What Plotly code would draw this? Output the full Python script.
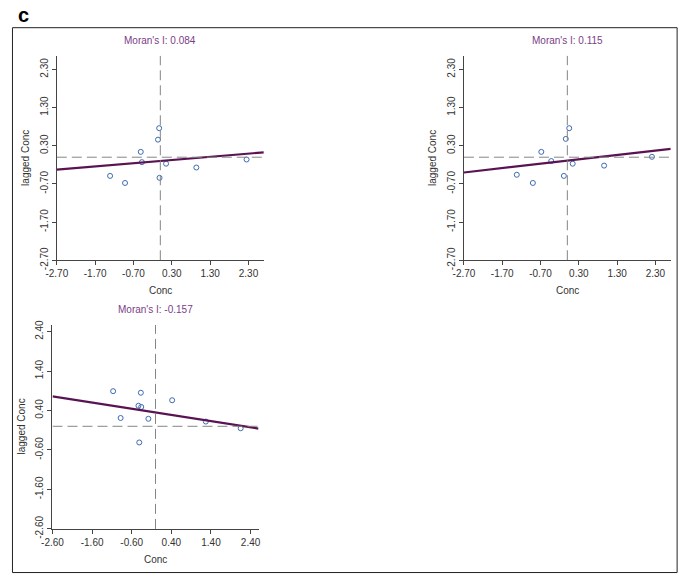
import plotly.graph_objects as go

W, H = 685, 584

# ---------------- data ----------------
panel_titles = ["Moran's I: 0.084", "Moran's I: 0.115", "Moran's I: -0.157"]
morans_i = [0.084, 0.115, -0.157]
fit_intercepts = [-0.10, -0.09, 0.35]

conc_1 = [-1.31, -0.92, -0.51, -0.48, -0.06, -0.03, -0.02, 0.15, 0.94, 2.25]
lag_1 = [-0.49, -0.675, 0.14, -0.13, 0.46, 0.76, -0.54, -0.17, -0.27, -0.06]

conc_2 = [-1.32, -0.90, -0.68, -0.42, -0.04, 0.05, -0.09, 0.14, 0.96, 2.21]
lag_2 = [-0.46, -0.675, 0.14, -0.10, 0.48, 0.76, -0.49, -0.17, -0.22, 0.01]

conc_3 = [-1.07, -0.88, -0.37, -0.43, -0.36, -0.18, -0.41, 0.42, 1.27, 2.15]
lag_3 = [0.89, 0.21, 0.85, 0.52, 0.49, 0.19, -0.41, 0.66, 0.12, -0.05]

x_ranges = [[-2.7, 2.7], [-2.7, 2.7], [-2.6, 2.6]]
y_ranges = [[-2.7, 2.66], [-2.7, 2.66], [-2.6, 2.57]]
tick_vals_1 = [-2.7, -1.7, -0.7, 0.3, 1.3, 2.3]
tick_vals_3 = [-2.6, -1.6, -0.6, 0.4, 1.4, 2.4]
tick_sets = [tick_vals_1, tick_vals_1, tick_vals_3]
mean_x = [0.0, 0.0, 0.0]
mean_y = [0.0, 0.0, 0.0]

x_label = "Conc"
y_label = "lagged Conc"
panel_letter = "c"

conc_all = [conc_1, conc_2, conc_3]
lag_all = [lag_1, lag_2, lag_3]

# ---------------- layout (pixel boxes: left, right, top, bottom) ----------------
boxes = [
    (46.7, 257.7, 52.0, 262.0),
    (461.7, 672.5, 52.0, 262.0),
    (42.3, 252.3, 328.3, 537.7),
]

FONT = "Arial, Liberation Sans, sans-serif"
AX_COL = "#444444"
TXT_COL = "#333333"
PURPLE_TXT = "#7a3d86"
LINE_COL = "#5a1352"
PT_COL = "#3d6bb3"
DASH_COL = "#858585"

fig = go.Figure()
layout = dict(
    width=W, height=H,
    margin=dict(l=0, r=0, t=0, b=0),
    paper_bgcolor="white", plot_bgcolor="white",
    showlegend=False,
    font=dict(family=FONT, size=10, color=TXT_COL),
)

annotations = []
shapes = []

for i in range(3):
    sfx = "" if i == 0 else str(i + 1)
    xa, ya = "x" + sfx, "y" + sfx
    l, r, t, b = boxes[i]
    xd = [l / W, r / W]
    yd = [1 - b / H, 1 - t / H]
    ticks = tick_sets[i]
    txt = ["%.2f" % v for v in ticks]
    common = dict(
        showgrid=False, zeroline=False, showline=True, linecolor=AX_COL,
        linewidth=1, ticks="outside", ticklen=4, tickwidth=1, tickcolor=AX_COL,
        tickmode="array", tickvals=ticks, ticktext=txt,
        tickfont=dict(family=FONT, size=10, color=TXT_COL),
        fixedrange=True, mirror=False,
    )
    layout["xaxis" + sfx] = dict(common, domain=xd, range=x_ranges[i], anchor=ya)
    layout["yaxis" + sfx] = dict(common, domain=yd, range=y_ranges[i], anchor=xa,
                                 tickangle=-90)

    shapes.append(dict(type="line", xref=xa, yref=ya,
                       x0=mean_x[i], x1=mean_x[i], y0=y_ranges[i][0], y1=y_ranges[i][1],
                       line=dict(color=DASH_COL, width=1, dash="10px,5px")))
    shapes.append(dict(type="line", xref=xa, yref=ya,
                       x0=x_ranges[i][0], x1=x_ranges[i][1], y0=mean_y[i], y1=mean_y[i],
                       line=dict(color=DASH_COL, width=1, dash="10px,5px")))

    fig.add_trace(go.Scatter(
        x=conc_all[i], y=lag_all[i], mode="markers", xaxis=xa, yaxis=ya,
        marker=dict(symbol="circle-open", size=5, color=PT_COL, line=dict(width=1, color=PT_COL)),
        hoverinfo="skip"))

    lx = x_ranges[i]
    ly = [fit_intercepts[i] + morans_i[i] * v for v in lx]
    fig.add_trace(go.Scatter(
        x=lx, y=ly, mode="lines", xaxis=xa, yaxis=ya,
        line=dict(color=LINE_COL, width=2.2), hoverinfo="skip"))

    cx = (l + r) / 2
    annotations.append(dict(text=panel_titles[i], xref="paper", yref="paper",
                            x=cx / W, y=1 - (t - 15.5) / H, showarrow=False,
                            xanchor="center", yanchor="middle",
                            font=dict(family=FONT, size=10, color=PURPLE_TXT)))
    annotations.append(dict(text=x_label, xref="paper", yref="paper",
                            x=cx / W, y=1 - (b + 31) / H, showarrow=False,
                            xanchor="center", yanchor="middle",
                            font=dict(family=FONT, size=10, color=TXT_COL)))
    annotations.append(dict(text=y_label, xref="paper", yref="paper",
                            x=(l - 31.5) / W, y=1 - ((t + b) / 2) / H, showarrow=False,
                            xanchor="center", yanchor="middle", textangle=-90,
                            font=dict(family=FONT, size=10, color=TXT_COL)))

annotations.append(dict(text="<b>%s</b>" % panel_letter, xref="paper", yref="paper",
                        x=5 / W, y=1 - 10 / H, showarrow=False,
                        xanchor="left", yanchor="middle",
                        font=dict(family=FONT, size=20, color="#000000")))

shapes.append(dict(type="rect", xref="paper", yref="paper",
                   x0=1.5 / W, x1=679 / W, y0=1 - 582.5 / H, y1=1 - 23.3 / H,
                   line=dict(color="#222222", width=1), fillcolor="rgba(0,0,0,0)"))

layout["annotations"] = annotations
layout["shapes"] = shapes
fig.update_layout(**layout)
fig.write_html("out.html",
               config={"displayModeBar": False, "staticPlot": True},
               post_script="document.body.style.margin='0';document.body.style.padding='0';")
